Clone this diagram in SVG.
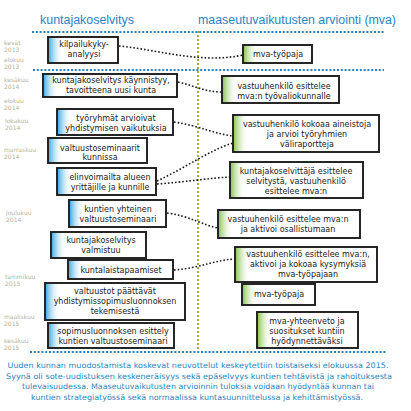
<svg xmlns="http://www.w3.org/2000/svg" width="411" height="411" viewBox="0 0 411 411">
<style>
.bg{fill:#ffffff}
.hd{font-family:"Liberation Sans",Arial,sans-serif;font-size:12.5px;fill:#2a85c4}
.dt{font-family:"DejaVu Sans",Verdana,sans-serif;font-size:6px;fill:#b4b49a}
.bx{fill:#ffffff;stroke:#1c1c1c;stroke-width:1.9}
.tx{font-family:"DejaVu Sans",Verdana,sans-serif;font-size:8px;fill:#222222;text-anchor:middle}
.ft{font-family:"DejaVu Sans",Verdana,sans-serif;font-size:7.7px;fill:#2a86be;text-anchor:middle}
.hl{stroke:#2a84c4;stroke-width:2.2;stroke-dasharray:2 1.8;fill:none}
.vl{stroke:#a9a94e;stroke-width:2;stroke-dasharray:2 2;fill:none}
.cn{stroke:#1c1c1c;stroke-width:1.6;stroke-dasharray:1.6 2;fill:none}
</style>
<defs>
<linearGradient id="gb" x1="0" y1="0" x2="1" y2="0">
<stop offset="0" stop-color="#4aaee3"/>
<stop offset="1" stop-color="#ffffff" stop-opacity="0"/>
</linearGradient>
<linearGradient id="gg" x1="0" y1="0" x2="1" y2="0">
<stop offset="0" stop-color="#8ec85a"/>
<stop offset="1" stop-color="#ffffff" stop-opacity="0"/>
</linearGradient>
</defs>
<rect class="bg" x="0" y="0" width="411" height="411"/>

<g id="headers">
<text class="hd" x="40" y="24" textLength="94" lengthAdjust="spacingAndGlyphs">kuntajakoselvitys</text>
<text class="hd" x="198" y="24" textLength="198" lengthAdjust="spacingAndGlyphs">maaseutuvaikutusten arviointi (mva)</text>
</g>

<g id="guides">
<line class="hl" x1="32" y1="32" x2="384" y2="32"/>
<line class="hl" x1="33" y1="70" x2="384" y2="70"/>
<line class="hl" x1="30" y1="352" x2="386" y2="352"/>
<line class="vl" x1="198" y1="31" x2="198" y2="351"/>
</g>

<g id="dates">
<text class="dt" x="4" y="45">kevät</text><text class="dt" x="4" y="52">2013</text>
<text class="dt" x="4" y="62">elokuu</text><text class="dt" x="4" y="69">2013</text>
<text class="dt" x="4" y="82">kesäkuu</text><text class="dt" x="4" y="89">2014</text>
<text class="dt" x="4" y="103">elokuu</text><text class="dt" x="4" y="110">2014</text>
<text class="dt" x="5" y="123">lokakuu</text><text class="dt" x="5" y="130">2014</text>
<text class="dt" x="4" y="152">marraskuu</text><text class="dt" x="4" y="159">2014</text>
<text class="dt" x="6" y="215">joulukuu</text><text class="dt" x="6" y="222">2014</text>
<text class="dt" x="5" y="279">tammikuu</text><text class="dt" x="5" y="286">2015</text>
<text class="dt" x="4" y="319">maaliskuu</text><text class="dt" x="4" y="326">2015</text>
<text class="dt" x="4" y="343">kesäkuu</text><text class="dt" x="4" y="350">2015</text>
</g>

<g id="connectors">
<path class="cn" d="M119,46 C160,50 200,64 243,55"/>
<path class="cn" d="M178,82 C195,86 205,92 222,92"/>
<path class="cn" d="M174,122 C200,126 215,134 233,136"/>
<path class="cn" d="M157,181 C185,168 210,150 233,143"/>
<path class="cn" d="M157,184 C185,182 210,178 230,177"/>
<path class="cn" d="M167,213 C190,216 205,226 218,228"/>
<path class="cn" d="M174,270 C200,268 215,260 235,259"/>
</g>

<g id="l1"><rect class="bx" x="48" y="37" width="70" height="26"/><rect x="49" y="38" width="14" height="24" fill="url(#gb)"/>
<text class="tx" x="84" y="47">kilpailukyky-</text><text class="tx" x="84" y="57">analyysi</text></g>
<g id="l2"><rect class="bx" x="43" y="74" width="134" height="23"/><rect x="44" y="75" width="14" height="21" fill="url(#gb)"/>
<text class="tx" x="111" y="83">kuntajakoselvitys käynnistyy,</text><text class="tx" x="111" y="93">tavoitteena uusi kunta</text></g>
<g id="l3"><rect class="bx" x="57" y="109" width="116" height="26"/><rect x="58" y="110" width="14" height="24" fill="url(#gb)"/>
<text class="tx" x="116" y="121">työryhmät arvioivat</text><text class="tx" x="116" y="131">yhdistymisen vaikutuksia</text></g>
<g id="l4"><rect class="bx" x="48" y="138" width="99" height="25"/><rect x="49" y="139" width="14" height="23" fill="url(#gb)"/>
<text class="tx" x="100" y="151">valtuustoseminaarit</text><text class="tx" x="100" y="160">kunnissa</text></g>
<g id="l5"><rect class="bx" x="57" y="168" width="99" height="27"/><rect x="58" y="169" width="14" height="25" fill="url(#gb)"/>
<text class="tx" x="110" y="180">elinvoimailta alueen</text><text class="tx" x="110" y="190">yrittäjille ja kunnille</text></g>
<g id="l6"><rect class="bx" x="69" y="200" width="97" height="27"/><rect x="70" y="201" width="14" height="25" fill="url(#gb)"/>
<text class="tx" x="118" y="212">kuntien yhteinen</text><text class="tx" x="118" y="222">valtuustoseminaari</text></g>
<g id="l7"><rect class="bx" x="51" y="232" width="95" height="26"/><rect x="52" y="233" width="14" height="24" fill="url(#gb)"/>
<text class="tx" x="101" y="243">kuntajakoselvitys</text><text class="tx" x="101" y="253">valmistuu</text></g>
<g id="l8"><rect class="bx" x="68" y="260" width="105" height="19"/><rect x="69" y="261" width="14" height="17" fill="url(#gb)"/>
<text class="tx" x="121" y="273">kuntalaistapaamiset</text></g>
<g id="l9"><rect class="bx" x="45" y="283" width="140" height="37"/><rect x="46" y="284" width="14" height="35" fill="url(#gb)"/>
<text class="tx" x="115" y="294">valtuustot päättävät</text><text class="tx" x="115" y="304">yhdistymissopimusluonnoksen</text><text class="tx" x="115" y="314">tekemisestä</text></g>
<g id="l10"><rect class="bx" x="48" y="323" width="126" height="25"/><rect x="49" y="324" width="14" height="23" fill="url(#gb)"/>
<text class="tx" x="113" y="334">sopimusluonnoksen esittely</text><text class="tx" x="113" y="344">kuntien valtuustoseminaari</text></g>

<g id="r1"><rect class="bx" x="243" y="45" width="69" height="18"/><rect x="244" y="46" width="14" height="16" fill="url(#gg)"/>
<text class="tx" x="278" y="57">mva-työpaja</text></g>
<g id="r2"><rect class="bx" x="222" y="76" width="117" height="27"/><rect x="223" y="77" width="14" height="25" fill="url(#gg)"/>
<text class="tx" x="284" y="89">vastuuhenkilö esittelee</text><text class="tx" x="284" y="99">mva:n työvaliokunnalle</text></g>
<g id="r3"><rect class="bx" x="233" y="115" width="146" height="37"/><rect x="234" y="116" width="14" height="35" fill="url(#gg)"/>
<text class="tx" x="307" y="127">vastuuhenkilö kokoaa aineistoja</text><text class="tx" x="307" y="137">ja arvioi työryhmien</text><text class="tx" x="307" y="147">väliraportteja</text></g>
<g id="r4"><rect class="bx" x="230" y="162" width="133" height="36"/><rect x="231" y="163" width="14" height="34" fill="url(#gg)"/>
<text class="tx" x="296" y="174">kuntajakoselvittäjä esittelee</text><text class="tx" x="296" y="184">selvitystä, vastuuhenkilö</text><text class="tx" x="296" y="194">esittelee mva:n</text></g>
<g id="r5"><rect class="bx" x="218" y="210" width="142" height="28"/><rect x="219" y="211" width="14" height="26" fill="url(#gg)"/>
<text class="tx" x="288" y="222">vastuuhenkilö esittelee mva:n</text><text class="tx" x="288" y="232">ja aktivoi osallistumaan</text></g>
<g id="r6"><rect class="bx" x="235" y="247" width="142" height="35"/><rect x="236" y="248" width="14" height="33" fill="url(#gg)"/>
<text class="tx" x="308" y="257">vastuuhenkilö esittelee mva:n,</text><text class="tx" x="308" y="267">aktivoi ja kokoaa kysymyksiä</text><text class="tx" x="308" y="277">mva-työpajaan</text></g>
<g id="r7"><rect class="bx" x="242" y="284" width="73" height="21"/><rect x="243" y="285" width="14" height="19" fill="url(#gg)"/>
<text class="tx" x="279" y="297">mva-työpaja</text></g>
<g id="r8"><rect class="bx" x="257" y="312" width="101" height="36"/><rect x="258" y="313" width="14" height="34" fill="url(#gg)"/>
<text class="tx" x="307" y="324">mva-yhteenveto ja</text><text class="tx" x="307" y="334">suositukset kuntiin</text><text class="tx" x="307" y="344">hyödynnettäväksi</text></g>

<g id="footer">
<text class="ft" x="198" y="368" textLength="381" lengthAdjust="spacingAndGlyphs">Uuden kunnan muodostamista koskevat neuvottelut keskeytettiin toistaiseksi elokuussa 2015.</text>
<text class="ft" x="199" y="378.5" textLength="386" lengthAdjust="spacingAndGlyphs">Syynä oli sote-uudistuksen keskeneräisyys sekä epäselvyys kuntien tehtävistä ja rahoituksesta</text>
<text class="ft" x="198" y="389" textLength="352" lengthAdjust="spacingAndGlyphs">tulevaisuudessa. Maaseutuvaikutusten arvioinnin tuloksia voidaan hyödyntää kunnan tai</text>
<text class="ft" x="197" y="399.5" textLength="332" lengthAdjust="spacingAndGlyphs">kuntien strategiatyössä sekä normaalissa kuntasuunnittelussa ja kehittämistyössä.</text>
</g>
</svg>
